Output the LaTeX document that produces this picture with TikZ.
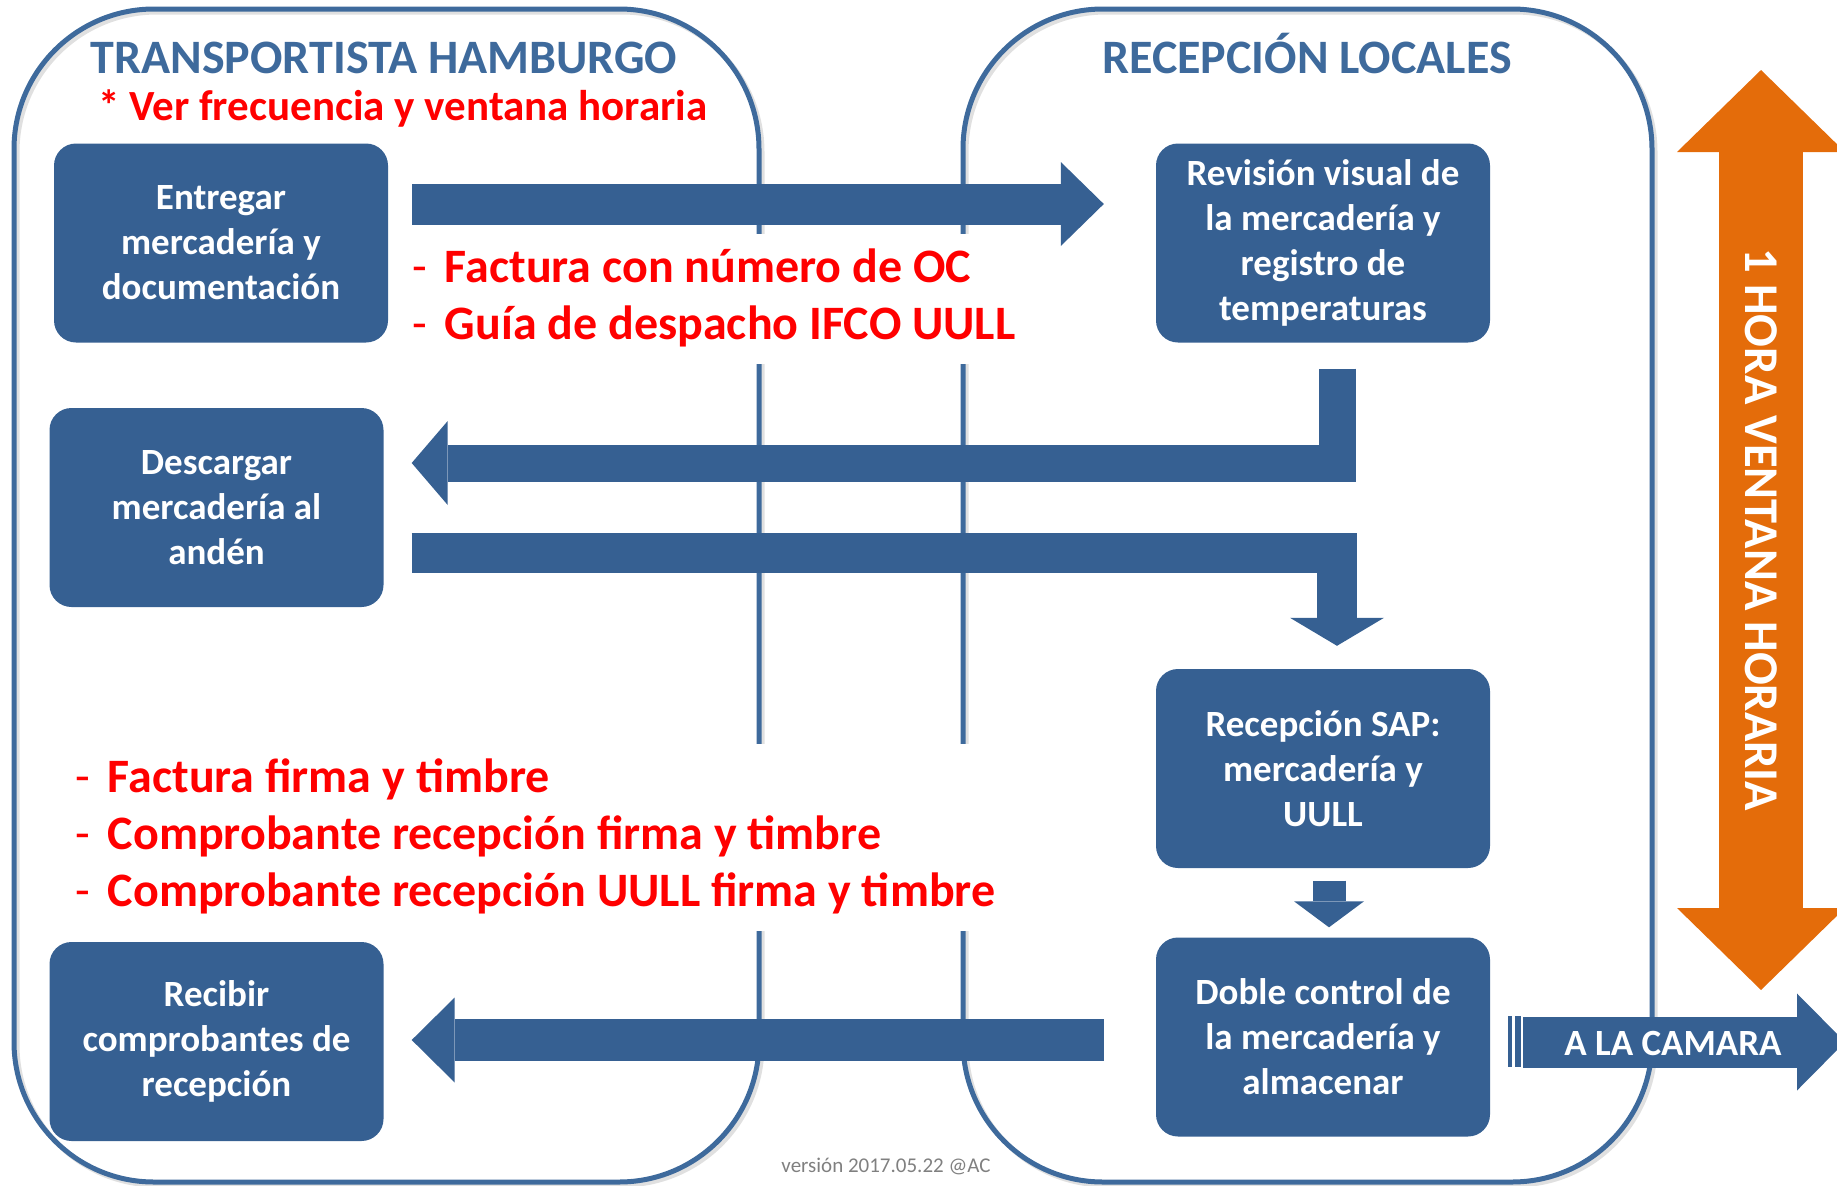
\documentclass[tikz,border=0pt]{standalone}
\usepackage{fontspec}
\setmainfont{Carlito}
\usepackage{tikz}
\usepackage{xcolor}
\usetikzlibrary{arrows.meta}
\usetikzlibrary{positioning}

\definecolor{azul}{RGB}{54,96,146}
\definecolor{borde}{RGB}{62,106,156}
\definecolor{titulo}{RGB}{62,106,156}
\definecolor{naranja}{RGB}{228,108,10}
\definecolor{gris}{RGB}{128,128,128}

\begin{document}
\begin{tikzpicture}
	[x=1pt, y=-1pt,
	main/.style = {fill=azul, rounded corners=22pt, minimum width=334pt, minimum height=199pt, text=white, align=center, font=\fontsize{37}{45}\selectfont\bfseries},
	lane/.style = {draw=borde, line width=5pt, rounded corners=140pt},
	sombra/.style = {draw=black!12, line width=5pt, rounded corners=140pt},
	flecha/.style = {draw=azul, line width=#1, line join=miter},
	titulo/.style = {text=titulo, anchor=base, font=\fontsize{48}{58}\selectfont\bfseries},
	nota/.style = {fill=white, text=red, anchor=base west, inner xsep=10pt, inner ysep=8pt, font=\fontsize{48}{57}\selectfont\bfseries}]
	\useasboundingbox (0,0) rectangle (1837,1186);
	\draw[sombra] (17,12) rectangle (762,1185);
	\draw[sombra] (966,12) rectangle (1655,1185);
	\draw[lane] (14,9) rectangle (759,1182);
	\draw[lane] (963,9) rectangle (1652,1182);
	\node[main] (entregar) at (221,243) {Entregar\\mercadería y\\documentación};
	\node[main] (descargar) at (216.5,507.5) {Descargar\\mercadería al\\andén};
	\node[main] (recibir) at (216.5,1041.5) {Recibir\\comprobantes de\\recepción};
	\node[main] (revision) at (1323,243) {Revisión visual de\\la mercadería y\\registro de\\temperaturas};
	\node[main] (sap) at (1323,768.5) {Recepción SAP:\\mercadería y\\UULL};
	\node[main] (doble) at (1323,1037) {Doble control de\\la mercadería y\\almacenar};
	\draw[flecha=41pt, -{Triangle[length=43pt, width=84pt, line width=0pt]}] ([xshift=24pt, yshift=39pt]entregar.east) -- ([xshift=-52pt, yshift=39pt]revision.west);
	\draw[flecha=37pt, -{Triangle[length=36pt, width=84pt, line width=0pt]}] ([xshift=14pt, yshift=-26pt]revision.south) |- ([xshift=28pt, yshift=44.5pt]descargar.east);
	\draw[flecha=40pt, -{Triangle[length=28pt, width=94pt, line width=0pt]}] ([xshift=28pt, yshift=-45.5pt]descargar.east) -| ([xshift=14pt, yshift=23pt]sap.north);
	\draw[flecha=33pt, -{Triangle[length=26pt, width=70pt, line width=0pt]}] ([xshift=6pt, yshift=-12.5pt]sap.south) -- ([xshift=6pt, yshift=10pt]doble.north);
	\draw[flecha=42pt, -{Triangle[length=43pt, width=85pt, line width=0pt]}] ([xshift=-52pt, yshift=-3pt]doble.west) -- ([xshift=28pt, yshift=1.5pt]recibir.east);
	\coordinate (camara) at (1845,1042);
	\fill[azul] ([xshift=18pt, yshift=21pt]doble.east) rectangle ([xshift=22pt, yshift=-30pt]doble.east);
	\fill[azul] ([xshift=25pt, yshift=21pt]doble.east) rectangle ([xshift=31pt, yshift=-30pt]doble.east);
	\draw[flecha=51pt, -{Triangle[length=48pt, width=97pt, line width=0pt]}] ([xshift=33pt, yshift=-5pt]doble.east) -- (camara);
	\node[text=white, font=\fontsize{37}{44}\selectfont\bfseries] (lacamara) at (1673,1043) {A LA CAMARA};
	\coordinate (arriba) at (1761,70);
	\coordinate (abajo) at (1761,990);
	\draw[draw=naranja, line width=84pt, {Triangle[length=82pt, width=168pt, line width=0pt]}-{Triangle[length=82pt, width=168pt, line width=0pt]}] (arriba) -- (abajo) node[midway, rotate=-90, text=white, font=\fontsize{48.5}{58}\selectfont\bfseries] (ventana) {1 HORA VENTANA HORARIA};
	\node[titulo] (transportista) at (384,73) {TRANSPORTISTA HAMBURGO};
	\node[text=red, anchor=base, font=\fontsize{43}{52}\selectfont\bfseries] (frecuencia) at (403,120) {* Ver frecuencia y ventana horaria};
	\node[titulo] (recepcion) at (1307,73) {RECEPCIÓN LOCALES};
	\node[nota] (docs) at (402,282) {\begin{tabular}[t]{@{}l@{\hspace{18pt}}l@{}}\mdseries- & Factura con número de OC\\ \mdseries- & Guía de despacho IFCO UULL\end{tabular}};
	\node[nota] (firmas) at (65,792) {\begin{tabular}[t]{@{}l@{\hspace{18pt}}l@{}}\mdseries- & Factura firma y timbre\\ \mdseries- & Comprobante recepción firma y timbre\\ \mdseries- & Comprobante recepción UULL firma y timbre\end{tabular}};
	\node[text=gris, anchor=base, font=\fontsize{21}{25}\selectfont] (version) at (886,1172) {versión 2017.05.22 @AC};
\end{tikzpicture}
\end{document}
